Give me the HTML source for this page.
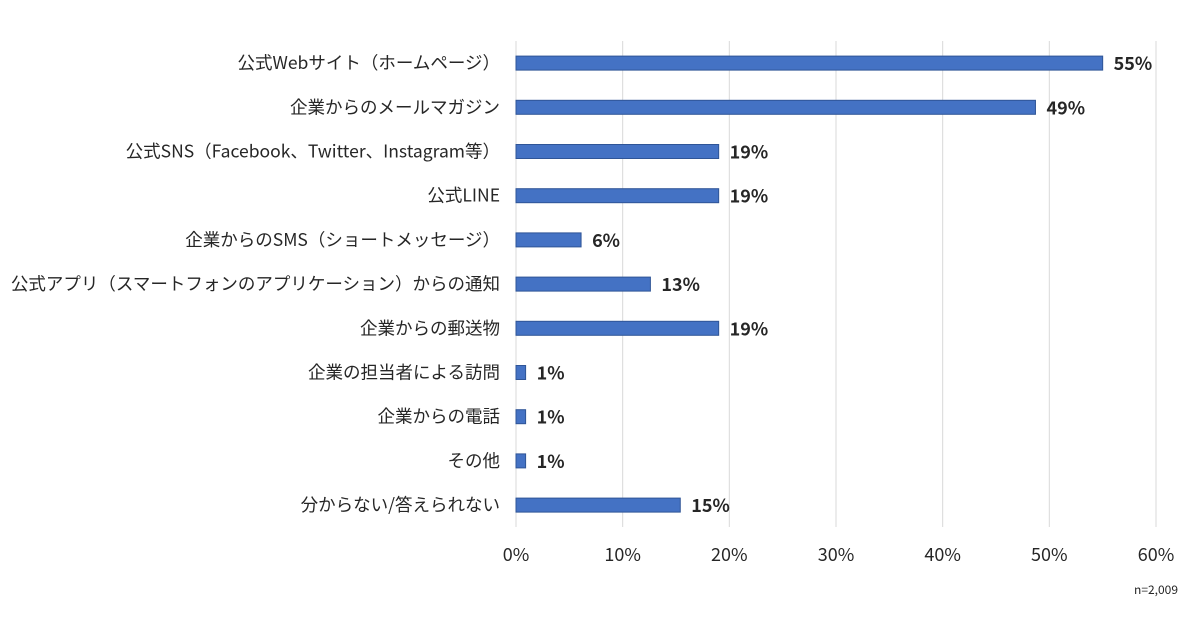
<!DOCTYPE html>
<html><head><meta charset="utf-8">
<style>
html,body{margin:0;padding:0;background:#fff;}
body{width:1200px;height:630px;overflow:hidden;font-family:"Noto Sans CJK JP",sans-serif;}
</style></head>
<body>
<svg id="chart" width="1200" height="630" xmlns="http://www.w3.org/2000/svg" font-family="Noto Sans CJK JP, sans-serif"></svg>
<script>
const categories = ["公式Webサイト（ホームページ）","企業からのメールマガジン","公式SNS（Facebook、Twitter、Instagram等）","公式LINE","企業からのSMS（ショートメッセージ）","公式アプリ（スマートフォンのアプリケーション）からの通知","企業からの郵送物","企業の担当者による訪問","企業からの電話","その他","分からない/答えられない"];
const values = [55,48.7,19,19,6.1,12.6,19,0.9,0.9,0.9,15.4];
const valueLabels = ["55%","49%","19%","19%","6%","13%","19%","1%","1%","1%","15%"];
const ticks = [0,10,20,30,40,50,60];
const tickLabels = ["0%","10%","20%","30%","40%","50%","60%"];

const svg = document.getElementById('chart');
const NS = 'http://www.w3.org/2000/svg';
const x0 = 516, x1 = 1156, xmax = 60;
const plotTop = 41, rowH = 44.2, barH = 14, plotBottom = 527;
const xScale = v => x0 + (v / xmax) * (x1 - x0);
const yCenter = i => plotTop + rowH * (i + 0.5);
function mk(tag, attrs, text){
  const e = document.createElementNS(NS, tag);
  for (const k in attrs) e.setAttribute(k, attrs[k]);
  if (text !== undefined) e.textContent = text;
  svg.appendChild(e);
  return e;
}
ticks.forEach((t, i) => {
  const g = mk('line', {x1:xScale(t), x2:xScale(t), y1:plotTop, y2:plotBottom, stroke:'#d9d9d9', 'stroke-width':1});
  
  
  const tl = mk('text', {x:xScale(t), y:561, 'text-anchor':'middle', 'font-size':18, fill:'#262626'}, tickLabels[i]);
  
  
});
categories.forEach((c, i) => {
  const cy = yCenter(i);
  const cl = mk('text', {x:500, y:cy + 6, 'text-anchor':'end', 'font-size':17.5, fill:'#262626'}, c);
  
  
  const w = xScale(values[i]) - x0;
  const b = mk('rect', {x:x0, y:cy - barH / 2, width:w, height:barH, fill:'#4472C4', stroke:'#2F5597', 'stroke-width':1});
  
  
  const vl = mk('text', {x:xScale(values[i]) + 11, y:cy + 7, 'font-size':18, 'font-weight':'bold', fill:'#262626'}, valueLabels[i]);
  
  
});
const n = mk('text', {x:1178, y:594, 'text-anchor':'end', 'font-size':12, fill:'#262626'}, 'n=2,009');


</script>
</body></html>
